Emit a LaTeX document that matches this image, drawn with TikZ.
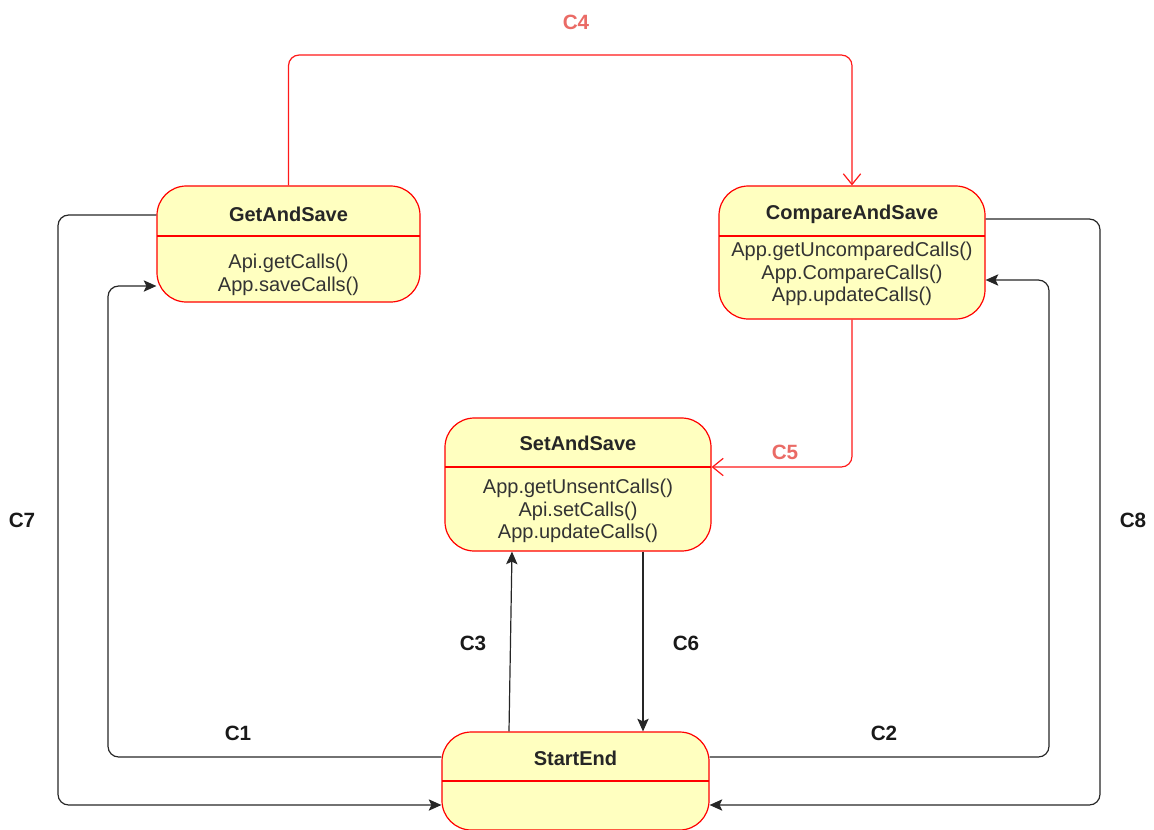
\documentclass[tikz,border=0pt]{standalone}
\usepackage{fontspec}
\setmainfont{Liberation Sans}
\usetikzlibrary{arrows.meta,calc}

\definecolor{stfill}{HTML}{FFFFC0}
\definecolor{stline}{HTML}{FF0000}
\definecolor{lblred}{HTML}{EA6B66}
\definecolor{txtgray}{HTML}{333333}

\tikzset{
  state/.style={draw=stline, fill=stfill, line width=0.9pt, rounded corners=22pt,
                rectangle, inner sep=0pt},
  divider/.style={draw=stline, line width=0.9pt},
  title/.style={font=\fontsize{15}{17}\selectfont\bfseries, text=black!85},
  body/.style={font=\fontsize{15}{17}\selectfont, text=txtgray, align=center},
  flow/.style={draw=black!85, line width=0.9pt, rounded corners=8pt,
               -{Stealth[length=9.5pt,width=8.5pt,inset=2pt]}},
  redflow/.style={draw=stline!90!white, line width=0.9pt, rounded corners=8pt,
               -{Straight Barb[length=8pt,width=13pt]}},
  clabel/.style={font=\fontsize{15.5}{17}\selectfont\bfseries, text=black!90},
  rlabel/.style={font=\fontsize{15.5}{17}\selectfont\bfseries, text=lblred},
}

\begin{document}
\begin{tikzpicture}[x=0.75pt, y=-0.75pt]
\useasboundingbox (0,0) rectangle (1154,829);

% ---------- states ----------
\node[state, minimum width=263*0.75pt, minimum height=116*0.75pt] (g) at (288.5,244) {};
\draw[divider] (157,236) -- (420,236);
\node[title] (gt) at (288.5,214) {GetAndSave};
\node[body] (gb) at (288.5,275) {Api.getCalls()\\App.saveCalls()};

\node[state, minimum width=266*0.75pt, minimum height=133*0.75pt] (c) at (852,252.5) {};
\draw[divider] (719,236) -- (985,236);
\node[title] (ct) at (852,214) {CompareAndSave};
\node[body] (cb) at (852,274) {App.getUncomparedCalls()\\App.CompareCalls()\\App.updateCalls()};

\node[state, minimum width=266*0.75pt, minimum height=133*0.75pt] (s) at (578,484.5) {};
\draw[divider] (445,467) -- (711,467);
\node[title] (st) at (578,443) {SetAndSave};
\node[body] (sb) at (578,511) {App.getUnsentCalls()\\Api.setCalls()\\App.updateCalls()};

\node[state, minimum width=267*0.75pt, minimum height=98*0.75pt] (e) at (575.5,781) {};
\draw[divider] (442,781) -- (709,781);
\node[title] (et) at (575.5,758) {StartEnd};

% ---------- bend points ----------
\coordinate (k4) at (852,55);
\coordinate (k7) at (58,805);
\coordinate (k1) at (108,286);
\coordinate (k8) at (1100,805);
\coordinate (k2) at (1049,280);

% ---------- transitions ----------
\draw[redflow] (g.north) |- (k4) -- (c.north);
\draw[redflow] (c.south) |- ([yshift=13.125pt]s.east);

\draw[flow] ([yshift=21.75pt]g.west) -| (k7) -- ([yshift=-18pt]e.west);
\draw[flow] ([yshift=18pt]e.west) -| (k1) -- ([yshift=-31.5pt]g.west);
\draw[flow] ([yshift=25.125pt]c.east) -| (k8) -- ([yshift=-18pt]e.east);
\draw[flow] ([yshift=18pt]e.east) -| (k2) -- ([yshift=-20.625pt]c.east);
\draw[flow] ([xshift=-49.875pt]e.north) -- ([xshift=-49.5pt]s.south);
\draw[flow] ([xshift=48.75pt]s.south) -- ([xshift=48.75pt]s.south |- e.north);

% ---------- labels ----------
\node[rlabel] (l4) at (576,22) {C4};
\node[rlabel] (l5) at (785,452) {C5};
\node[clabel] (l7) at (22,520) {C7};
\node[clabel] (l1) at (238,733) {C1};
\node[clabel] (l8) at (1133,520) {C8};
\node[clabel] (l2) at (884,733) {C2};
\node[clabel] (l3) at (473,643) {C3};
\node[clabel] (l6) at (686,643) {C6};
\end{tikzpicture}
\end{document}
